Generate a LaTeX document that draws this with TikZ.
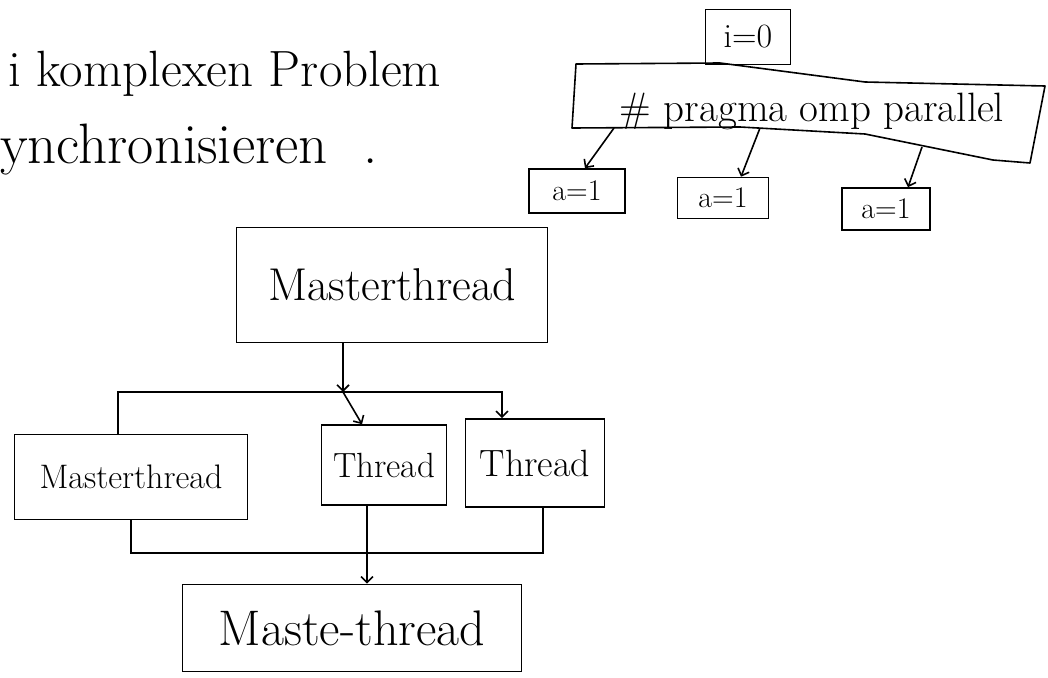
\documentclass[tikz,border=0pt]{standalone}
\usetikzlibrary{arrows.meta,calc}
\newcommand\myfs[1]{\fontsize{#1}{#1}\selectfont}
\tikzset{
  box/.style={draw, line width=1.6pt, inner sep=0pt, anchor=center},
  conn/.style={line width=1.6pt},
  arr/.style={line width=1.6pt, -{Straight Barb[length=6pt,width=12pt]}},
  title/.style={inner sep=0pt, anchor=base west},
}
\begin{document}
\begin{tikzpicture}[x=1pt,y=-1pt]
\useasboundingbox (0,0) rectangle (1048,677);
% title text
\node[title] (t1) at (8,86) {\myfs{51}i komplexen Problem};
\node[title] (t2) at (0,163) {\myfs{57}ynchronisieren\hspace{36pt}.};
% top right tree
\node[box, minimum width=85pt, minimum height=55pt] (i0) at (748,37) {\myfs{34}i=0};
\node[inner sep=0pt, anchor=base] (prag) at (812,121) {\myfs{41}\# pragma omp parallel};
\draw[conn, line join=round] (576,64) -- (720,63) -- (865,82) -- (1045,86) -- (1030,163)
   -- (993,160) -- (865,134) -- (740,127) -- (572,128) -- cycle;
\coordinate (pb1) at (614,128);
\coordinate (pb2) at (760,128);
\coordinate (pb3) at (922,147);
\node[box, minimum width=96pt, minimum height=44pt] (a1) at (577,191) {\myfs{30}a=1};
\node[box, minimum width=91pt, minimum height=41pt] (a2) at (723,198) {\myfs{30}a=1};
\node[box, minimum width=88pt, minimum height=42pt] (a3) at (886,209) {\myfs{30}a=1};
\draw[arr] (pb1) -- ([xshift=8pt]a1.north);
\draw[arr] (pb2) -- ([xshift=18pt]a2.north);
\draw[arr] (pb3) -- ([xshift=22pt]a3.north);
% bottom tree
\node[box, minimum width=311pt, minimum height=115pt] (mt1) at (392,285) {\myfs{46}Masterthread};
\node[box, minimum width=233pt, minimum height=85pt] (mt2) at (131,477) {\myfs{34}Masterthread};
\node[box, minimum width=125pt, minimum height=80pt] (th1) at (384,465) {\myfs{35}Thread};
\node[box, minimum width=139pt, minimum height=88pt] (th2) at (535,463) {\myfs{38}Thread};
\node[box, minimum width=339pt, minimum height=87pt] (mt3) at (352,628) {\myfs{50}Maste-thread};
\coordinate (split) at (343,392);
\coordinate (join) at (367,553);
\draw[arr] (split |- mt1.south) -- (split);
\draw[conn] (split) -| ([xshift=-13pt]mt2.north);
\draw[arr] (split) -| ([xshift=-33pt]th2.north);
\draw[arr] (split) -- ([xshift=-22pt]th1.north);
\draw[conn] (mt2.south) |- (join);
\draw[conn] ([xshift=8pt]th2.south) |- (join);
\draw[conn] (join |- th1.south) -- (join);
\draw[arr] (join) -- (join |- mt3.north);
\end{tikzpicture}
\end{document}
